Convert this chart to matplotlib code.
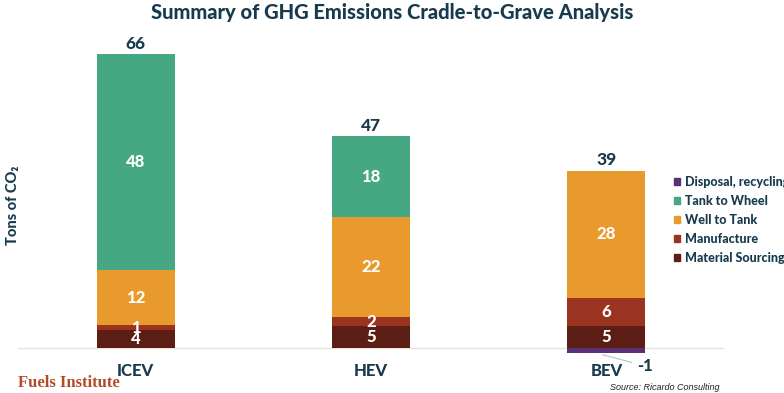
import matplotlib
matplotlib.use("Agg")
import matplotlib.pyplot as plt
from matplotlib.patches import Patch
import numpy as np

categories = ["ICEV", "HEV", "BEV"]
material_sourcing = [4.0, 4.9, 5.0]
manufacture = [1.1, 2.0, 6.3]
well_to_tank = [12.4, 22.4, 28.5]
tank_to_wheel = [48.5, 18.2, 0.0]
disposal = [0.0, 0.0, -1.0]
totals = [66, 47, 39]

series_names = ["Material Sourcing", "Manufacture", "Well to Tank", "Tank to Wheel"]
series_vals = [material_sourcing, manufacture, well_to_tank, tank_to_wheel]
series_cols = ["#5c1e14", "#9b3321", "#e99a2c", "#46a883"]
disp_col = "#5b2f73"
navy = "#173a4d"
HW = 900

plt.rcParams['font.family'] = ['Lato', 'DejaVu Sans']

fig = plt.figure(figsize=(7.84, 3.93), dpi=100)
ax = fig.add_axes([18/784, (393-357)/393, (724-18)/784, 312/393])
ax.set_xlim(-0.5, 2.5)
ax.set_ylim(-2, 68)
x = np.arange(len(categories))
w = 0.331

bottom = np.zeros(len(categories))
for name, vals, col in zip(series_names, series_vals, series_cols):
    v = np.array(vals)
    ax.bar(x, v, w, bottom=bottom, color=col, edgecolor='none', zorder=2)
    for i in range(len(x)):
        if v[i] > 0.5:
            ax.text(x[i], bottom[i] + v[i]/2, f"{v[i]:.0f}", ha='center', va='center',
                    color='white', fontsize=12, fontweight=HW, zorder=4)
    bottom = bottom + v

d = np.array(disposal)
ax.bar(x, d, w, color=disp_col, edgecolor='none', zorder=3)
ax.axhline(0, color='#e4e4dc', lw=1, zorder=1)

for i in range(len(x)):
    ax.text(x[i], bottom[i] + 0.5, f"{totals[i]}", ha='center', va='bottom',
            color=navy, fontsize=12.5, fontweight=HW)
    if d[i] < 0:
        ax.annotate(f"{d[i]:.0f}", xy=(x[i] - 0.05, d[i]), xytext=(x[i] + 0.13, -4.0),
                    ha='left', va='center', color=navy, fontsize=12, fontweight=HW,
                    arrowprops=dict(arrowstyle='-', color='#a9c9b8', lw=0.8, shrinkB=6),
                    annotation_clip=False)

ax.set_xticks(x)
ax.set_xticklabels(categories, fontsize=12, fontweight=HW, color=navy)
ax.tick_params(axis='x', length=0, pad=4)
ax.set_yticks([])
for s in ax.spines.values():
    s.set_visible(False)

fig.text(0.5, 1 - 12/393, "Summary of GHG Emissions Cradle-to-Grave Analysis", ha='center', va='center',
         fontsize=14.5, fontweight=HW, color=navy)
fig.text(13/784, 1 - 205/393, "Tons of CO₂", rotation=90, ha='center', va='center',
         fontsize=10.5, fontweight=HW, color=navy)
fig.text(18/784, 1 - 383/393, "Fuels Institute", ha='left', va='center',
         fontsize=12, fontweight='bold', color='#b24b2a', family=['Liberation Serif'])
fig.text(610/784, 1 - 388/393, "Source: Ricardo Consulting", ha='left', va='center',
         fontsize=6.5, style='italic', color='#222222', family=['Liberation Sans'])

handles = [Patch(color=disp_col), Patch(color=series_cols[3]), Patch(color=series_cols[2]),
           Patch(color=series_cols[1]), Patch(color=series_cols[0])]
labels = ["Disposal, recycling", "Tank to Wheel", "Well to Tank", "Manufacture", "Material Sourcing"]
leg = fig.legend(handles, labels, loc='upper left', bbox_to_anchor=(674/784, 1 - 176/393),
                 frameon=False, fontsize=9, handlelength=0.5, handleheight=0.5,
                 handletextpad=0.35, labelspacing=0.55, borderaxespad=0, borderpad=0)
for t in leg.get_texts():
    t.set_color(navy)
    t.set_fontweight(HW)

fig.savefig("out.png", dpi=100)
